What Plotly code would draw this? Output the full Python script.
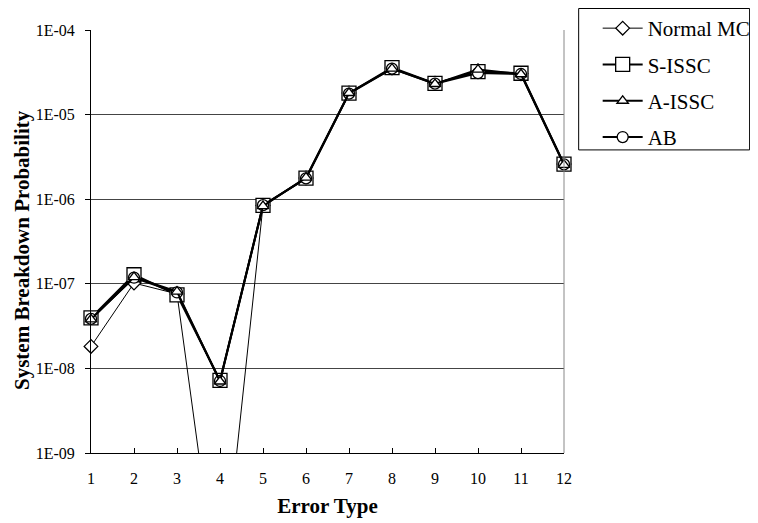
import plotly.graph_objects as go

error_types = [1, 2, 3, 4, 5, 6, 7, 8, 9, 10, 11, 12]
normal_mc = [1.82e-8, 1.02e-7, 7.6e-8, 1.4e-11, 8.4e-7, 1.78e-6, 1.80e-5, 3.55e-5, 2.35e-5, 3.30e-5, 3.05e-5, 2.60e-6]
s_issc = [3.95e-8, 1.28e-7, 7.4e-8, 7.2e-9, 8.43e-7, 1.77e-6, 1.79e-5, 3.59e-5, 2.34e-5, 3.22e-5, 3.08e-5, 2.60e-6]
a_issc = [3.80e-8, 1.20e-7, 8.1e-8, 7.0e-9, 8.30e-7, 1.80e-6, 1.80e-5, 3.50e-5, 2.30e-5, 3.40e-5, 3.00e-5, 2.55e-6]
ab = [3.85e-8, 1.18e-7, 7.9e-8, 7.1e-9, 8.50e-7, 1.76e-6, 1.77e-5, 3.50e-5, 2.32e-5, 3.10e-5, 3.02e-5, 2.58e-6]

y_tickvals = [1e-9, 1e-8, 1e-7, 1e-6, 1e-5, 1e-4]
y_ticktext = ["1E-09", "1E-08", "1E-07", "1E-06", "1E-05", "1E-04"]

FONT = "Liberation Serif, Times New Roman, serif"

fig = go.Figure()

series = [
    ("Normal MC", normal_mc, "diamond", 10.5, 1, 1),
    ("S-ISSC", s_issc, "square", 14, 2, 2),
    ("AB", ab, "circle", 11, 2, 4),
    ("A-ISSC", a_issc, "triangle-up", 10, 2, 3),
]
for name, vals, sym, size, lw, rank in series:
    fig.add_trace(go.Scatter(
        x=error_types, y=vals, name=name, mode="lines+markers",
        line=dict(color="black", width=lw),
        marker=dict(symbol=sym, size=size, color="white",
                    line=dict(color="black", width=1.3)),
        legendrank=rank, legendgroup=name, cliponaxis=False,
    ))

# page has an 8px body margin: figure is 750x515 drawn at (8, 8)
fig.update_layout(
    width=750, height=515,
    margin=dict(l=83, r=194, t=22, b=70, autoexpand=False),
    paper_bgcolor="white", plot_bgcolor="white",
    font=dict(family=FONT, color="black", size=15),
    showlegend=True,
    legend=dict(
        x=1.0712, y=1.052, xanchor="left", yanchor="top",
        borderwidth=0, bgcolor="rgba(0,0,0,0)",
        font=dict(family=FONT, size=21, color="black"),
        tracegroupgap=6, itemwidth=40,
    ),
    xaxis=dict(
        range=[1, 12], tickvals=error_types, ticks="inside", ticklen=5,
        tickcolor="black", showline=True, linecolor="black", linewidth=1,
        showgrid=False, zeroline=False, mirror=False, automargin=False,
        tickfont=dict(family=FONT, size=16),
        ticklabelstandoff=11,
        title=dict(text="<b>Error Type</b>", font=dict(family=FONT, size=21), standoff=12),
    ),
    yaxis=dict(
        type="log", range=[-9, -4], tickvals=y_tickvals, ticktext=y_ticktext,
        ticks="outside", ticklen=5, tickcolor="black", automargin=False,
        showline=True, linecolor="black", linewidth=1,
        showgrid=True, gridcolor="#444444", gridwidth=1, zeroline=False,
        tickfont=dict(family=FONT, size=16), ticklabelstandoff=7,
    ),
    annotations=[dict(
        text="<b>System Breakdown Probability</b>", textangle=-90,
        xref="paper", yref="paper", x=(14 - 83) / 473.3, y=0.48,
        xanchor="center", yanchor="middle", showarrow=False,
        font=dict(family=FONT, size=21, color="black"),
    )],
)

# right border of plot area (gray)
fig.add_shape(type="line", xref="paper", yref="paper", x0=1, x1=1, y0=0, y1=1,
              line=dict(color="#888888", width=1))
# legend frame
fig.add_shape(type="rect", xref="paper", yref="paper",
              x0=1.031, x1=1.3924, y0=0.7165, y1=1.0508,
              line=dict(color="black", width=1), fillcolor="rgba(0,0,0,0)")

fig.write_html("out.html")
